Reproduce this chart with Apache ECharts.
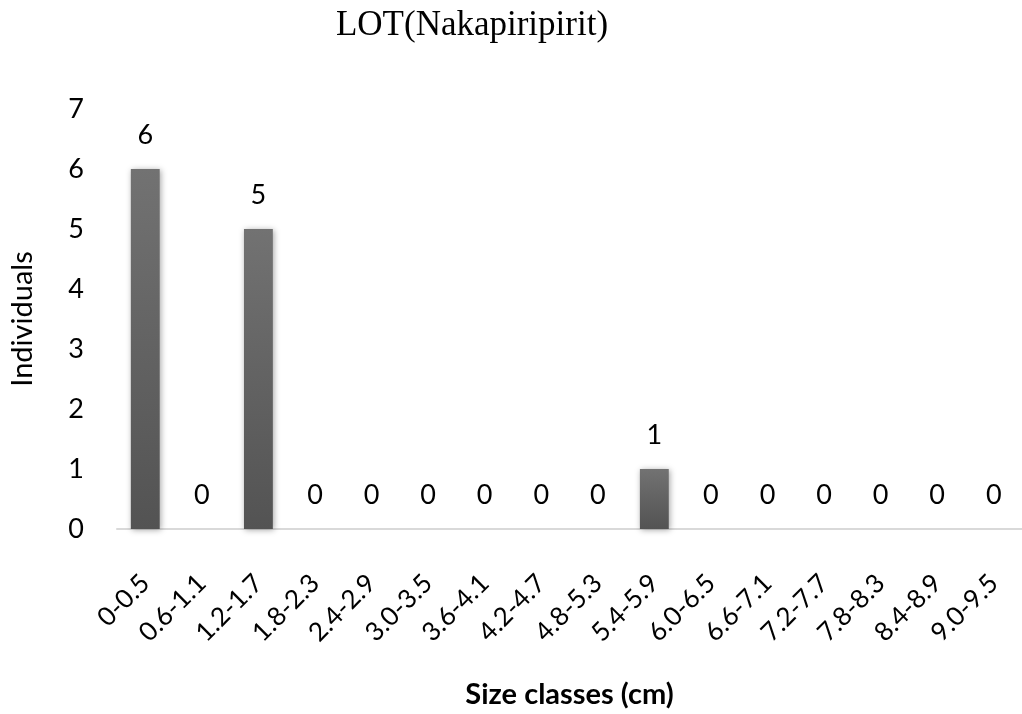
<!DOCTYPE html>
<html>
<head>
<meta charset="utf-8">
<script src="https://cdn.jsdelivr.net/npm/echarts@6/dist/echarts.min.js"></script>
<style>html,body{margin:0;padding:0;background:#fff}#c{width:1022px;height:714px}</style>
</head>
<body>
<div id="c"></div>
<script>
const categories = ['0-0.5','0.6-1.1','1.2-1.7','1.8-2.3','2.4-2.9','3.0-3.5','3.6-4.1','4.2-4.7','4.8-5.3','5.4-5.9','6.0-6.5','6.6-7.1','7.2-7.7','7.8-8.3','8.4-8.9','9.0-9.5'];
const individuals = [6,0,5,0,0,0,0,0,0,1,0,0,0,0,0,0];
const yTicks = [0,1,2,3,4,5,6,7];

const font = 'Lato, "Open Sans", sans-serif';
const chart = echarts.init(document.getElementById('c'));
chart.setOption({
  animation: false,
  title: {
    text: 'LOT(Nakapiripirit)',
    left: 467, top: 3, textAlign: 'center',
    textStyle: {fontFamily: '"Liberation Serif", "Times New Roman", serif', fontWeight: 'normal', fontSize: 35, color: '#000'}
  },
  grid: {left: 115, right: 0, top: 109, bottom: 184},
  xAxis: {
    type: 'category', data: categories,
    axisLine: {lineStyle: {color: '#d9d9d9', width: 2}},
    axisTick: {show: false},
    axisLabel: {rotate: 45, interval: 0, margin: 50, fontSize: 26, color: '#000', fontFamily: font},
    name: 'Size classes (cm)', nameLocation: 'middle', nameGap: 151,
    nameTextStyle: {fontFamily: font, fontWeight: 'bold', fontSize: 29, color: '#000'}
  },
  yAxis: {
    type: 'value', min: yTicks[0], max: yTicks[yTicks.length-1], interval: 1,
    axisLine: {show: false}, axisTick: {show: false}, splitLine: {show: false},
    axisLabel: {margin: 33, fontSize: 27, color: '#000', fontFamily: font},
    name: 'Individuals', nameLocation: 'middle', nameGap: 80,
    nameTextStyle: {fontFamily: font, fontSize: 29, color: '#000'}
  },
  series: [{
    type: 'bar', data: individuals, barWidth: '51%',
    itemStyle: {
      color: new echarts.graphic.LinearGradient(0,0,0,1,[{offset:0,color:'#727272'},{offset:1,color:'#535353'}]),
      shadowColor: 'rgba(0,0,0,0.35)', shadowBlur: 6, shadowOffsetX: 1, shadowOffsetY: 1
    },
    label: {show: true, position: 'top', distance: 20, fontSize: 27, color: '#000', fontFamily: font}
  }]
});
</script>
</body>
</html>
